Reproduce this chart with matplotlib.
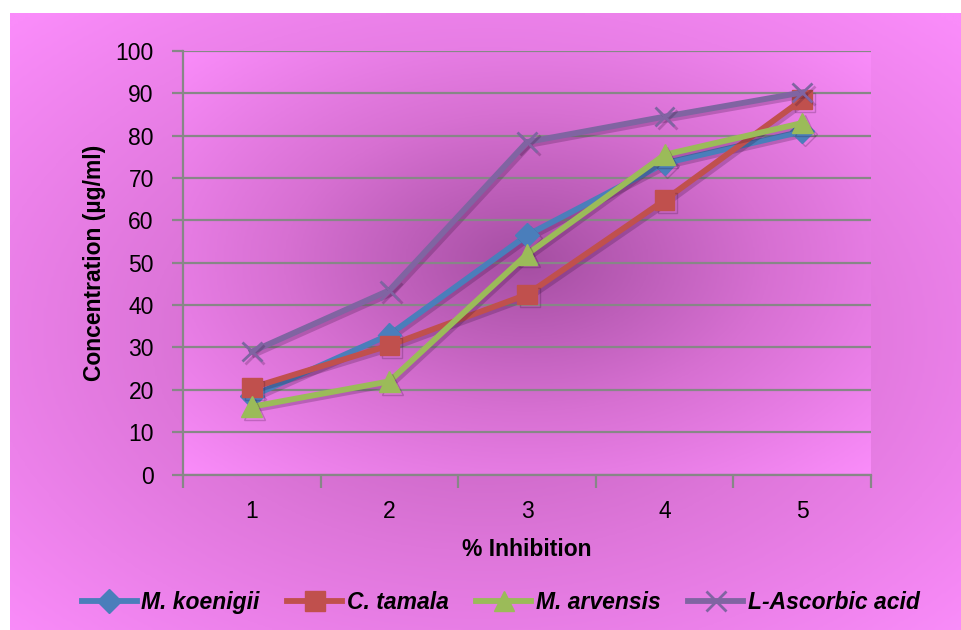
import numpy as np
import matplotlib.pyplot as plt
import matplotlib.patheffects as pe
from matplotlib.colors import LinearSegmentedColormap

plt.rcParams['font.family'] = ['Liberation Sans', 'DejaVu Sans']

# data
categories = ['1', '2', '3', '4', '5']
koenigii = [18.5, 33.0, 56.5, 73.5, 81.0]
tamala = [20.5, 30.5, 42.5, 64.8, 88.5]
arvensis = [16.0, 22.0, 52.0, 75.5, 83.0]
ascorbic = [29.0, 43.5, 78.5, 84.5, 90.2]
y_ticks = list(range(0, 101, 10))


def radial_gradient(nx, ny, cx=0.5, cy=0.5, power=1.0):
    """Elliptical radial ramp: 0 at the centre, 1 at the corners."""
    x = np.linspace(0, 1, nx)
    y = np.linspace(0, 1, ny)
    xx, yy = np.meshgrid(x, y)
    r = np.sqrt(((xx - cx) / 0.5) ** 2 + ((yy - cy) / 0.5) ** 2) / np.sqrt(2)
    return np.clip(r, 0, 1) ** power


light = (250 / 255, 140 / 255, 250 / 255)
outer_cmap = LinearSegmentedColormap.from_list(
    'outer', [(188 / 255, 92 / 255, 182 / 255), (222 / 255, 118 / 255, 218 / 255), light])
inner_cmap = LinearSegmentedColormap.from_list(
    'inner', [(165 / 255, 78 / 255, 162 / 255), (215 / 255, 112 / 255, 210 / 255), light])

fig = plt.figure(figsize=(9.61, 6.30), dpi=100)

# chart area background
bg = fig.add_axes([10 / 961, 0, 951 / 961, 617 / 630], zorder=-10)
bg.imshow(radial_gradient(400, 260, 0.5, 0.48), cmap=outer_cmap, vmin=0, vmax=1,
          aspect='auto', extent=[0, 1, 0, 1], origin='lower', interpolation='bilinear')
bg.set_axis_off()

ax = fig.add_axes([183 / 961, 1 - 474.5 / 630, 688 / 961, 423.5 / 630])
ax.set_facecolor('none')
ax.imshow(radial_gradient(400, 260), cmap=inner_cmap, vmin=0, vmax=1,
          aspect='auto', extent=[0, 5, 0, 100], origin='lower',
          interpolation='bilinear', zorder=0)

grid_color = '#878787'
for y in y_ticks:
    ax.axhline(y, color=grid_color, lw=1.6, zorder=1)

x = np.arange(len(categories)) + 0.5
shadow = [pe.SimpleLineShadow(offset=(2.0, -2.0), shadow_color='#2a0830', alpha=0.22),
          pe.Normal()]
series = [
    ('M. koenigii', koenigii, '#4a7ebb', 'D', 12),
    ('C. tamala', tamala, '#c0504d', 's', 14),
    ('M. arvensis', arvensis, '#9bbb59', '^', 15),
    ('L-Ascorbic acid', ascorbic, '#8064a2', 'x', 14),
]
for name, vals, color, marker, ms in series:
    ax.plot(x, vals, color=color, lw=4.2, marker=marker, ms=ms,
            mec=color, mfc=color, mew=2.0 if marker == 'x' else 1.0,
            label=name, zorder=3, path_effects=shadow, clip_on=False)

ax.set_xlim(0, 5)
ax.set_ylim(0, 100)

# category labels centred, tick marks on the category boundaries
ax.set_xticks(x)
ax.set_xticklabels(categories)
ax.set_xticks(np.arange(0, 6), minor=True)
ax.tick_params(axis='x', which='major', length=0, pad=18, labelsize=16.5)
ax.tick_params(axis='x', which='minor', length=9, width=1.6, color=grid_color)
ax.set_yticks(y_ticks)
ax.tick_params(axis='y', length=8, width=1.6, color=grid_color, pad=13, labelsize=16.5)

for side in ['top', 'right']:
    ax.spines[side].set_visible(False)
for side in ['left', 'bottom']:
    ax.spines[side].set_color(grid_color)
    ax.spines[side].set_linewidth(1.6)

ax.set_ylabel('Concentration (µg/ml)', fontsize=16.5, fontweight='bold', labelpad=7)
ax.set_xlabel('% Inhibition', fontsize=16.5, fontweight='bold', labelpad=11)

leg = fig.legend(loc='center', bbox_to_anchor=(0.521, 0.043), ncol=4, frameon=False,
                 handlelength=2.4, handletextpad=0.2, columnspacing=1.2,
                 prop={'size': 16.5, 'weight': 'bold', 'style': 'italic'})
for h in leg.legend_handles:
    h.set_path_effects([])

fig.savefig('out.png', dpi=100, facecolor='white')
